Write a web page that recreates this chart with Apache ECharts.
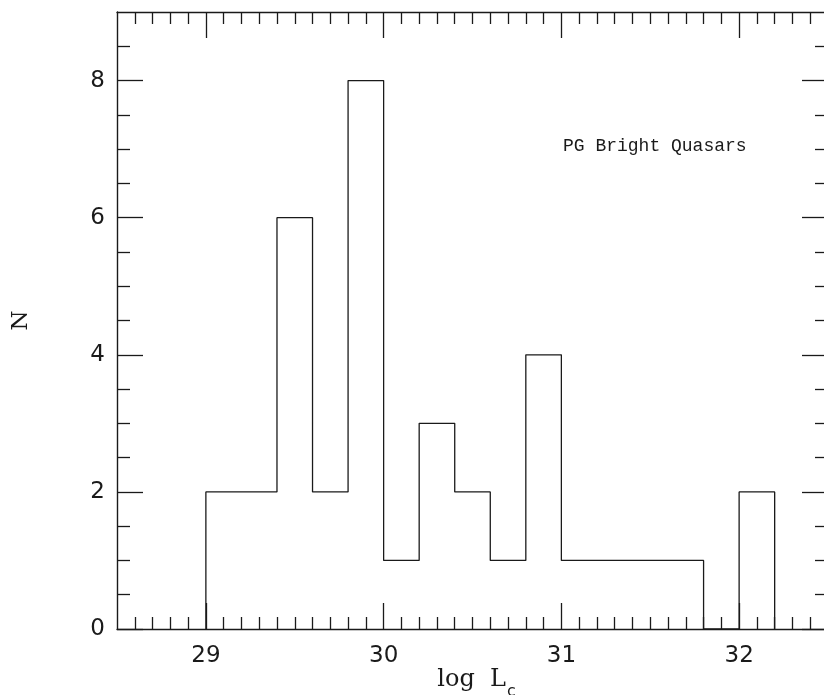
<!DOCTYPE html>
<html>
<head>
<meta charset="utf-8">
<script src="https://cdn.jsdelivr.net/npm/echarts@6/dist/echarts.min.js"></script>
<style>
html,body{margin:0;padding:0;background:#fff;}
#chart{width:824px;height:695px;}
</style>
</head>
<body>
<div id="chart"></div>
<script>
// ---- data ----
const binEdges = [29.0, 29.2, 29.4, 29.6, 29.8, 30.0, 30.2, 30.4, 30.6, 30.8, 31.0, 31.2, 31.4, 31.6, 31.8, 32.0, 32.2];
const counts   = [2, 2, 6, 2, 8, 1, 3, 2, 1, 4, 1, 1, 1, 1, 0, 2];
const xMajorTicks = [29, 30, 31, 32];
const yMajorTicks = [0, 2, 4, 6, 8];
const xRange = [28.5, 32.5];
const yRange = [0, 9];
const annotation = 'PG Bright Quasars';

// minor ticks (0.1 on x, 0.5 on y)
const xMinorTicks = [];
for (let i = 286; i <= 324; i++) { if (i % 10 !== 0) xMinorTicks.push(i / 10); }
const yMinorTicks = [];
for (let i = 1; i <= 17; i++) { if (i % 4 !== 0) yMinorTicks.push(i / 2); }

// histogram outline built from the bins
const outline = [[binEdges[0], 0]];
for (let i = 0; i < counts.length; i++) {
  outline.push([binEdges[i], counts[i]], [binEdges[i + 1], counts[i]]);
}
outline.push([binEdges[binEdges.length - 1], 0]);

const INK = '#1a1a1a';
const tickFont = { fontFamily: 'DejaVu Sans', fontSize: 23, color: INK };

function axis(kind, position, ticks, len, showLine, labels) {
  const a = {
    type: 'value', position: position,
    min: kind === 'x' ? xRange[0] : yRange[0],
    max: kind === 'x' ? xRange[1] : yRange[1],
    splitLine: { show: false },
    axisLine: { show: showLine, onZero: false, lineStyle: { color: INK, width: 1.4 } },
    axisTick: { show: true, inside: true, length: len, customValues: ticks, lineStyle: { color: INK, width: 1.3 } },
    axisLabel: labels ? Object.assign({ show: true, customValues: ticks, margin: kind === 'x' ? 16 : 12 }, tickFont) : { show: false }
  };
  return a;
}

const chart = echarts.init(document.getElementById('chart'), null, { renderer: 'canvas' });
chart.setOption({
  animation: false,
  backgroundColor: '#ffffff',
  grid: { left: 117, right: -4, top: 12, bottom: 66, containLabel: false, outerBoundsMode: 'none' },
  xAxis: [
    axis('x', 'bottom', xMajorTicks, 26, true, true),
    axis('x', 'bottom', xMinorTicks, 12, false, false),
    axis('x', 'top', xMajorTicks, 26, true, false),
    axis('x', 'top', xMinorTicks, 12, false, false)
  ],
  yAxis: [
    Object.assign(axis('y', 'left', yMajorTicks, 26, true, true), {
      name: 'N', nameLocation: 'middle', nameGap: 84, nameRotate: 90,
      nameTextStyle: { fontFamily: 'DejaVu Serif', fontSize: 23, color: INK }
    }),
    axis('y', 'left', yMinorTicks, 13, false, false),
    axis('y', 'right', yMajorTicks, 26, true, false),
    axis('y', 'right', yMinorTicks, 13, false, false)
  ],
  series: [{
    type: 'line',
    xAxisIndex: 0, yAxisIndex: 0,
    data: outline,
    symbol: 'none',
    lineStyle: { color: INK, width: 1.3 },
    silent: true
  }],
  graphic: [
    { type: 'text', x: 563, y: 146, style: { text: annotation, fontFamily: 'Liberation Mono', fontSize: 18, fill: INK, align: 'left', verticalAlign: 'middle' } },
    { type: 'text', x: 506, y: 680, style: { text: 'log  L', fontFamily: 'DejaVu Serif', fontSize: 24, fill: INK, align: 'right', verticalAlign: 'middle' } },
    { type: 'text', x: 507, y: 692, style: { text: 'c', fontFamily: 'DejaVu Sans', fontSize: 16, fill: INK, align: 'left', verticalAlign: 'middle' } }
  ]
});
</script>
</body>
</html>
